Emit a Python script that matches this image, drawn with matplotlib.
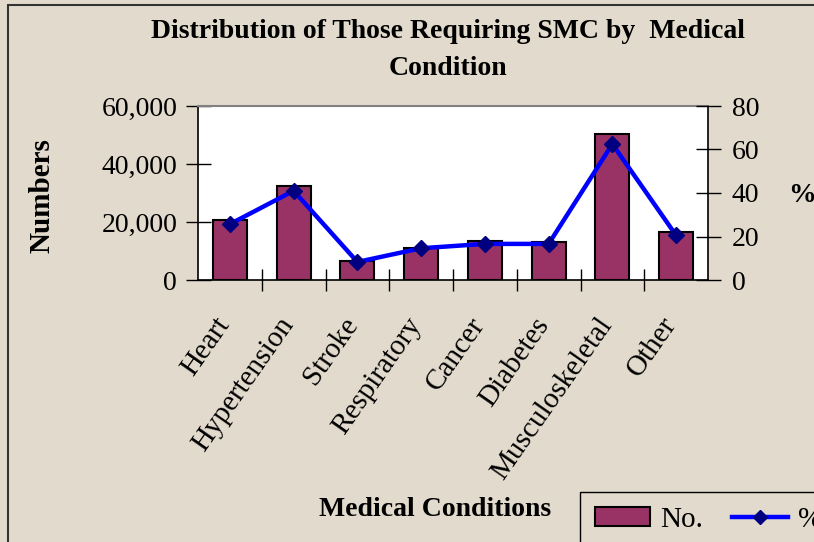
import matplotlib
matplotlib.use("Agg")
import matplotlib.pyplot as plt
from matplotlib.patches import Rectangle, Patch
from matplotlib.lines import Line2D
from matplotlib.ticker import FuncFormatter, MultipleLocator
from matplotlib.transforms import ScaledTranslation

categories = ["Heart", "Hypertension", "Stroke", "Respiratory", "Cancer",
              "Diabetes", "Musculoskeletal", "Other"]
numbers = [20800, 32400, 6400, 11100, 13400, 13200, 50200, 16400]
percent = [25.7, 41.0, 8.3, 14.6, 16.6, 16.6, 62.5, 20.5]

W, H = 814, 542
bg = "#E2DBCD"
plt.rcParams["font.family"] = ["Liberation Serif", "DejaVu Serif"]

fig = plt.figure(figsize=(W / 100, H / 100), dpi=100, facecolor=bg)
# chart area border (left and top visible)
fig.add_artist(Rectangle((8 / W, -0.1), 1.2, 1 - 5 / H + 0.1, transform=fig.transFigure,
                         fill=False, edgecolor="#333333", linewidth=1.5))

ax = fig.add_axes([198 / W, 1 - 280 / H, (708 - 198) / W, (280 - 106) / H])
ax.set_facecolor("white")
x = list(range(len(categories)))
ax.bar(x, numbers, width=0.53, color="#993366", edgecolor="black", linewidth=1.5, zorder=2)
ax.set_xlim(-0.5, len(categories) - 0.5)
ax.set_ylim(0, 60000)
ax.yaxis.set_major_locator(MultipleLocator(20000))
ax.yaxis.set_major_formatter(FuncFormatter(lambda v, p: f"{int(v):,}"))
ax.set_xticks([i + 0.5 for i in range(len(categories) - 1)])
ax.set_xticklabels([])
ax.set_xticks(x, minor=True)
ax.set_xticklabels(categories, minor=True, rotation=55, ha="right", va="center",
                   rotation_mode="anchor", fontsize=21)
ax.tick_params(axis="x", which="minor", length=0, pad=29)
shift = ScaledTranslation(-5 / 100, 0, fig.dpi_scale_trans)
for lbl in ax.get_xticklabels(minor=True):
    lbl.set_transform(lbl.get_transform() + shift)
ax.tick_params(axis="x", which="major", direction="inout", length=16, width=1)
ax.tick_params(axis="y", direction="inout", length=18, width=1, labelsize=20, pad=6)
for s in ["left", "right", "bottom"]:
    ax.spines[s].set_color("black")
    ax.spines[s].set_linewidth(1.2)
ax.spines["top"].set_color("#808080")
ax.spines["top"].set_linewidth(1.5)

ax2 = ax.twinx()
ax2.plot(x, percent, color="#0000FF", linewidth=3.2, marker="D", markersize=8,
         markerfacecolor="#000080", markeredgecolor="#000080", zorder=3)
ax2.set_ylim(0, 80)
ax2.yaxis.set_major_locator(MultipleLocator(20))
ax2.tick_params(axis="y", direction="inout", length=18, width=1, labelsize=20, pad=8)
for s in ["left", "right", "bottom", "top"]:
    ax2.spines[s].set_visible(False)

fig.text(448 / W, 1 - 31 / H, "Distribution of Those Requiring SMC by  Medical",
         ha="center", va="center", fontsize=20, fontweight="bold")
fig.text(448 / W, 1 - 69 / H, "Condition", ha="center", va="center",
         fontsize=20, fontweight="bold")
fig.text(42 / W, 1 - 196 / H, "Numbers", ha="center", va="center", rotation=90,
         fontsize=21, fontweight="bold")
fig.text(788 / W, 1 - 195 / H, "%", ha="left", va="center", fontsize=20, fontweight="bold")
fig.text(435 / W, 1 - 510 / H, "Medical Conditions", ha="center", va="center",
         fontsize=20, fontweight="bold")

handles = [Patch(facecolor="#993366", edgecolor="black", linewidth=1.5),
           Line2D([0], [0], color="#0000FF", linewidth=3.2, marker="D", markersize=7,
                  markerfacecolor="#000080", markeredgecolor="#000080")]
leg = fig.legend(handles, ["No.", "%"], ncol=2, loc="upper left",
                 bbox_to_anchor=(580 / W, 1 - 492 / H), borderaxespad=0, fontsize=21,
                 frameon=True, fancybox=False, edgecolor="black", facecolor=bg,
                 framealpha=1, handlelength=1.9, handleheight=0.6, columnspacing=1.0,
                 borderpad=0.5, handletextpad=0.35)
leg.get_frame().set_linewidth(1.0)

fig.savefig("out.png", dpi=100, facecolor=bg)
